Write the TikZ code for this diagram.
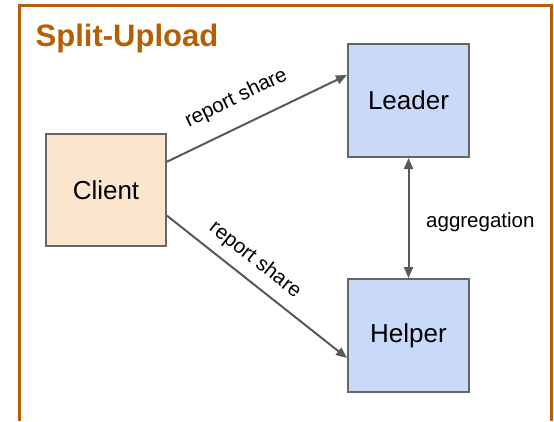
\documentclass[tikz,border=0pt]{standalone}
\usepackage{fontspec}
\setmainfont{Liberation Sans}
\usetikzlibrary{arrows.meta,calc}
\definecolor{frameorange}{HTML}{B45F06}
\definecolor{clientfill}{HTML}{FCE5CD}
\definecolor{serverfill}{HTML}{C9DAF8}
\definecolor{boxborder}{HTML}{666666}
\definecolor{arrowgray}{HTML}{595959}
\begin{document}
\begin{tikzpicture}[x=1pt,y=-1pt,
  box/.style={draw=boxborder, line width=2.4pt, minimum width=119.6pt, minimum height=111.6pt, inner sep=0pt, font=\fontsize{26}{30}\selectfont},
  conn/.style={draw=arrowgray, line width=2pt, -{Triangle[length=11pt,width=9pt]}},
  lbl/.style={font=\fontsize{20.5}{24}\selectfont, inner sep=0pt}]
\useasboundingbox (0,0) rectangle (554,421);
\fill[white] (0,0) rectangle (554,421);
\draw[draw=frameorange, line width=2.2pt] (19.5,421) -- (19.5,5.5) -- (551.5,5.5) -- (551.5,421);
\node[anchor=base west, inner sep=0pt, text=frameorange, font=\bfseries\fontsize{31}{36}\selectfont] (title) at (35.5,46.5) {Split-Upload};
\node[box, fill=clientfill] (client) at (106,190) {Client};
\node[box, fill=serverfill, minimum width=120.6pt, minimum height=112.6pt] (leader) at (408.5,100.5) {Leader};
\node[box, fill=serverfill, minimum width=120.6pt, minimum height=112.6pt] (helper) at (408.5,335.5) {Helper};
\draw[conn] (client.east |- 0,161.7) -- node[lbl, sloped, above, inner ysep=16.5pt, pos=0.45] (lblup) {report share} (leader.west |- 0,75);
\draw[conn] (client.east |- 0,215.7) -- node[lbl, sloped, above, inner ysep=9.3pt, pos=0.42] (lbldown) {report share} (helper.west |- 0,358);
\draw[conn, {Triangle[length=11pt,width=9pt]}-{Triangle[length=11pt,width=9pt]}] (leader.south) -- (helper.north);
\node[lbl, anchor=west] (agg) at (426,222) {aggregation};
\end{tikzpicture}
\end{document}
